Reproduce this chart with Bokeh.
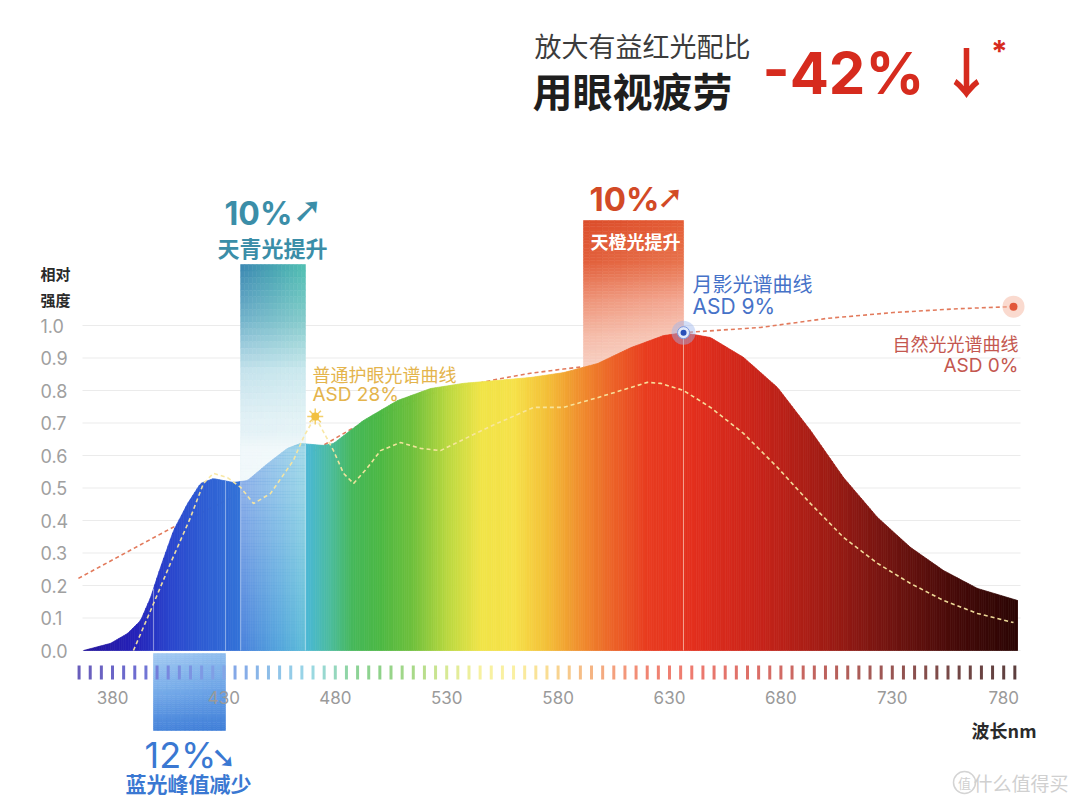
import numpy as np
from bokeh.plotting import figure
from bokeh.models import Range1d
from bokeh.core.properties import value
from bokeh.embed import file_html
from bokeh.resources import INLINE

# ---------------- data ----------------
x_ticks = [380, 430, 480, 530, 580, 630, 680, 730, 780]
y_ticks = [0.0, 0.1, 0.2, 0.3, 0.4, 0.5, 0.6, 0.7, 0.8, 0.9, 1.0]
y_tick_labels = ["0.0", "0.1", "0.2", "0.3", "0.4", "0.5", "0.6", "0.7", "0.8", "0.9", "1.0"]

# 月影光谱曲线 ASD 9%
moon_nm = [367.0, 379.1, 386.7, 392.6, 397.1, 401.5, 407.4, 413.7, 419.5, 425.3, 434.3, 440.6,
           449.6, 458.5, 464.4, 474.7, 479.2, 492.7, 507.9, 522.7, 537.5, 552.8, 567.6, 582.4,
           597.7, 612.7, 627.3, 636.3, 648.4, 663.2, 678.5, 693.3, 708.1, 723.4, 738.2, 753.0,
           768.2, 786.2]
moon_val = [0.0, 0.022, 0.052, 0.092, 0.163, 0.255, 0.369, 0.452, 0.514, 0.529, 0.517, 0.523,
            0.575, 0.622, 0.637, 0.631, 0.637, 0.708, 0.769, 0.806, 0.822, 0.831, 0.840, 0.855,
            0.883, 0.932, 0.969, 0.978, 0.963, 0.902, 0.809, 0.677, 0.532, 0.409, 0.317, 0.246,
            0.191, 0.154]

# 普通护眼光谱曲线 ASD 28%
normal_nm = [389.4, 397.1, 406.0, 415.0, 420.8, 425.3, 431.6, 437.5, 443.3, 450.9, 461.2, 466.0,
             471.0, 479.2, 483.7, 488.2, 494.5, 500.3, 509.3, 518.2, 527.2, 549.7, 569.0, 582.4,
             597.7, 612.5, 620.1, 626.0, 636.3, 648.4, 663.2, 678.5, 693.3, 708.1, 723.4, 738.2,
             753.0, 768.2, 784.4]
normal_val = [0.0, 0.123, 0.268, 0.409, 0.514, 0.545, 0.532, 0.502, 0.452, 0.483, 0.585, 0.660,
              0.720, 0.615, 0.545, 0.514, 0.563, 0.615, 0.640, 0.622, 0.615, 0.690, 0.748, 0.748,
              0.778, 0.809, 0.825, 0.822, 0.800, 0.748, 0.668, 0.563, 0.452, 0.348, 0.268, 0.206,
              0.154, 0.114, 0.086]

# 自然光光谱曲线 ASD 0%
natural_nm = [364.7, 406.0, 441.9, 486.8, 522.7, 552.8, 567.6, 582.4, 600.0, 636.3, 670.8,
              700.9, 730.5, 760.6, 784.4]
natural_val = [0.222, 0.375, 0.50, 0.68, 0.79, 0.835, 0.853, 0.866, 0.880, 0.978, 0.994,
               1.022, 1.040, 1.052, 1.058]

band_blue = [398.4, 430.7]     # 蓝光峰值减少 12%
band_cyan = [437.5, 466.6]     # 天青光提升 10%
band_orange = [591.4, 636.3]   # 天橙光提升 10%

spec_nm = [367, 390, 405, 420, 440, 455, 468, 478, 488, 500, 515, 530, 545, 560, 575, 590,
           605, 620, 640, 670, 700, 730, 760, 786]
spec_col = ["#24149c", "#2522b8", "#2a44cc", "#2e5cd3", "#3476d8", "#3e9ad8", "#4ab8d2",
            "#4cbc9c", "#46b85a", "#4cb844", "#70c03c", "#b8d840", "#f0e448", "#f6e24a",
            "#f4c038", "#f08e2e", "#ec6228", "#e83c20", "#e4301e", "#c8241a", "#a01c14",
            "#701410", "#440a08", "#2c0605"]

ruler_nm = list(range(365, 790, 5))

CJK = "Noto Sans CJK SC"
LAT = "Inter"

# ---------------- canvas calibration ----------------
PX_NM = 2.228
def sx(X):
    return 380 + (X - 112) / PX_NM
def sy(Y):
    return (650 - Y) / 325.0

W, H = 1072, 798
p = figure(width=W, height=H,
           x_range=Range1d(sx(0), sx(W)), y_range=Range1d(sy(H), sy(0)),
           x_axis_type=None, y_axis_type=None,
           output_backend="svg", toolbar_location=None, min_border=0,
           outline_line_color=None, background_fill_color="white",
           border_fill_color="white")

def h2r(h):
    h = h.lstrip("#")
    return np.array([int(h[i:i + 2], 16) for i in (0, 2, 4)], float)

def r2h(rgb):
    return "#%02x%02x%02x" % tuple(int(round(max(0, min(255, v)))) for v in rgb)

SPEC_RGB = np.array([h2r(c) for c in spec_col])
def spec_rgb(nm):
    return np.array([np.interp(nm, spec_nm, SPEC_RGB[:, k]) for k in range(3)])

def grad_box(x0, x1, v_top, v_bot, stops_v, left_cols, right_cols, ny=60, nx=16):
    sv = np.array(stops_v)[::-1]
    L = np.array([h2r(c) for c in left_cols])[::-1]
    R = np.array([h2r(c) for c in right_cols])[::-1]
    vs = np.linspace(v_top, v_bot, ny + 1)
    xe = np.linspace(x0, x1, nx + 1)
    le, ri, to, bo, cols = [], [], [], [], []
    for j in range(ny):
        vm = 0.5 * (vs[j] + vs[j + 1])
        lc = np.array([np.interp(vm, sv, L[:, k]) for k in range(3)])
        rc = np.array([np.interp(vm, sv, R[:, k]) for k in range(3)])
        for i in range(nx):
            t = (i + 0.5) / nx
            le.append(xe[i]); ri.append(xe[i + 1]); to.append(vs[j]); bo.append(vs[j + 1])
            cols.append(r2h(lc * (1 - t) + rc * t))
    p.quad(left=le, right=ri, top=to, bottom=bo, fill_color=cols, line_color=cols, line_width=0.6)

# ---------------- grid lines ----------------
p.segment(x0=[sx(82)] * len(y_ticks), x1=[sx(1020)] * len(y_ticks), y0=y_ticks, y1=y_ticks,
          line_color="#ebebeb", line_width=1)

# ---------------- natural light dashed line (behind area) ----------------
p.line(natural_nm, natural_val, line_color="#e27a5c", line_width=1.6, line_dash="4 3")

# ---------------- orange band box ----------------
grad_box(band_orange[0], band_orange[1], sy(220), 0.80,
         [sy(220), sy(262), sy(300), sy(335), sy(370), 0.80],
         ["#dc4e2c", "#e2603c", "#ee9478", "#f5bba8", "#f8d2c6", "#fadbd2"],
         ["#e45c34", "#e8744e", "#f4a994", "#f8c8b8", "#fad8cc", "#fbe0d8"])

# ---------------- cyan band box ----------------
grad_box(band_cyan[0], band_cyan[1], sy(264), 0.0,
         [sy(264), sy(320), sy(370), sy(420), 0.0],
         ["#3a86b2", "#74b4cc", "#c4e2ec", "#e2f1f6", "#edf7fa"],
         ["#4fbfb2", "#86cccc", "#cbe9ee", "#e4f3f6", "#eef8fa"])

# ---------------- spectrum area ----------------
edges = np.append(np.arange(moon_nm[0], moon_nm[-1], 1.0), moon_nm[-1])
tops = np.interp(edges, moon_nm, moon_val)
xs, ys, cols = [], [], []
for i in range(len(edges) - 1):
    a, b = edges[i], edges[i + 1]
    xs.append([a, a, b, b])
    ys.append([0, tops[i], tops[i + 1], 0])
    cols.append(r2h(spec_rgb(0.5 * (a + b))))
p.patches(xs, ys, fill_color=cols, line_color=cols, line_width=0.7)

# white wash of the cyan band over the area (fades in smoothly near the curve top)
wv = np.linspace(0.68, 0.0, 69)
wmid = 0.5 * (wv[:-1] + wv[1:])
walpha = np.interp(wmid, [0.0, 0.5, 0.62, 0.68], [0.12, 0.45, 0.5, 0.0])
p.quad(left=[band_cyan[0]] * len(wmid), right=[band_cyan[1]] * len(wmid), top=list(wv[:-1]),
       bottom=list(wv[1:]), fill_color="white", fill_alpha=list(walpha), line_color=None)

# band edge lines through the area
edge_x = [band_blue[0], band_blue[1], band_cyan[0], band_cyan[1]]
p.segment(x0=edge_x, x1=edge_x, y0=[0] * 4, y1=list(np.interp(edge_x, moon_nm, moon_val)),
          line_color="white", line_alpha=0.45, line_width=1)
ipk = int(np.argmax(moon_val))
p.segment(x0=[moon_nm[ipk]], x1=[moon_nm[ipk]], y0=[0], y1=[moon_val[ipk]],
          line_color="#f9c0b0", line_alpha=0.8, line_width=1)

# ---------------- blue band box below axis ----------------
grad_box(band_blue[0], band_blue[1], sy(653), sy(730),
         [sy(653), sy(690), sy(730)],
         ["#a6ccf2", "#7aaeea", "#4784da"],
         ["#8fbdee", "#6aa2e6", "#3f7ed8"], ny=40)

# ---------------- spectrum ruler ticks ----------------
tick_cols = []
for nm in ruler_nm:
    c = spec_rgb(min(max(nm, spec_nm[0]), spec_nm[-1]))
    lum = c.mean() / 255.0
    f = 0.2 + 0.4 * lum
    tick_cols.append(r2h(c + (255 - c) * f))
p.segment(x0=ruler_nm, x1=ruler_nm, y0=[sy(665)] * len(ruler_nm), y1=[sy(679)] * len(ruler_nm),
          line_color=tick_cols, line_width=3)

# ---------------- normal eye-care dashed line ----------------
p.line(normal_nm, normal_val, line_color="#f8e6a0", line_alpha=0.95, line_width=1.6, line_dash="4 3")

# ---------------- markers ----------------
p.scatter([moon_nm[ipk]], [moon_val[ipk]], size=24, fill_color="#9db6ee", fill_alpha=0.45, line_color=None)
p.scatter([moon_nm[ipk]], [moon_val[ipk]], size=12, fill_color="#e2eafb", line_color="#7d9ae0", line_width=1)
p.scatter([moon_nm[ipk]], [moon_val[ipk]], size=6, fill_color="#2a4fb8", line_color=None)

p.scatter([natural_nm[-1]], [natural_val[-1]], size=22, fill_color="#f6bca8", fill_alpha=0.55, line_color=None)
p.scatter([natural_nm[-1]], [natural_val[-1]], size=8, fill_color="#e2573a", line_color=None)

isun = int(np.argmax(normal_val[:20]))
p.scatter([normal_nm[isun]], [normal_val[isun]], marker="asterisk", size=16, line_color="#f3cf6a", line_width=1.5)
p.scatter([normal_nm[isun]], [normal_val[isun]], size=8, fill_color="#f2c040", line_color=None)

# ---------------- texts ----------------
def T(txt, X, Y, size, color, font=CJK, style="normal", align="left", baseline="middle"):
    p.text(x=[sx(X)], y=[sy(Y)], text=[txt], text_font=value(font), text_font_size=f"{size}px",
           text_color=color, text_font_style=style, text_align=align, text_baseline=baseline)

# axis labels
p.text(x=[sx(40)] * len(y_ticks), y=y_ticks, text=y_tick_labels, text_font=value(LAT),
       text_font_size="18px", text_color="#a0a0a0", text_align="left", text_baseline="middle")
p.text(x=x_ticks, y=[sy(697)] * len(x_ticks), text=[str(v) for v in x_ticks], text_font=value(LAT),
       text_font_size="17px", text_color="#9a9a9a", text_align="center", text_baseline="middle")
T("相对", 40, 273, 15, "#2a2a2a", style="bold")
T("强度", 40, 299, 15, "#2a2a2a", style="bold")
T("波长nm", 1036, 729, 18, "#2a2a2a", style="bold", align="right")

# headline
T("放大有益红光配比", 534, 45, 27, "#3c3c3c")
T("用眼视疲劳", 532, 89, 40, "#1e1e1e", style="bold")
T("-42%", 762, 72, 58, "#d62b1e", font=LAT, style="bold")
T("↓", 966, 70, 54, "#d62b1e", font=CJK, style="bold", align="center")
T("*", 999, 50, 30, "#d62b1e", font=LAT, style="bold", align="center")

# cyan band
T("10%", 224, 213, 32, "#3b8ea8", font=LAT, style="bold")
T("➚", 307, 209, 36, "#3b8ea8", font="DejaVu Sans", align="center")
T("天青光提升", 217, 246, 22, "#3b8ea8", style="bold")

# orange band
T("10%", 589, 198, 33, "#d24a26", font=LAT, style="bold")
T("➚", 670, 196, 32, "#d24a26", font="DejaVu Sans", align="center")
T("天橙光提升", 590, 240, 18, "#ffffff", style="bold")

# blue band
T("12%", 144, 754, 36, "#3a78d2", font=LAT)
T("➘", 223, 757, 30, "#3a78d2", font="DejaVu Sans", align="center")
T("蓝光峰值减少", 125, 782, 21, "#3a78d2", style="bold")

# curve labels
T("月影光谱曲线", 692, 283, 20, "#4672c8")
T("ASD 9%", 692, 306, 21, "#4672c8", font=LAT)
T("自然光光谱曲线", 1018, 342, 18, "#c4574f", align="right")
T("ASD 0%", 1018, 365, 19, "#c4574f", font=LAT, align="right")
T("普通护眼光谱曲线", 312, 373, 18, "#e4b44c")
T("ASD 28%", 312, 394, 19, "#e4b44c", font=LAT)

# watermark
p.scatter([sx(964)], [sy(782)], size=22, fill_color=None, line_color="#d4d4d4", line_width=1.5)
T("值", 964, 782, 13, "#d0d0d0", align="center")
T("什么值得买", 1068, 782, 19, "#d0d0d0", align="right")

open("out.html", "w").write(file_html(p, INLINE))
